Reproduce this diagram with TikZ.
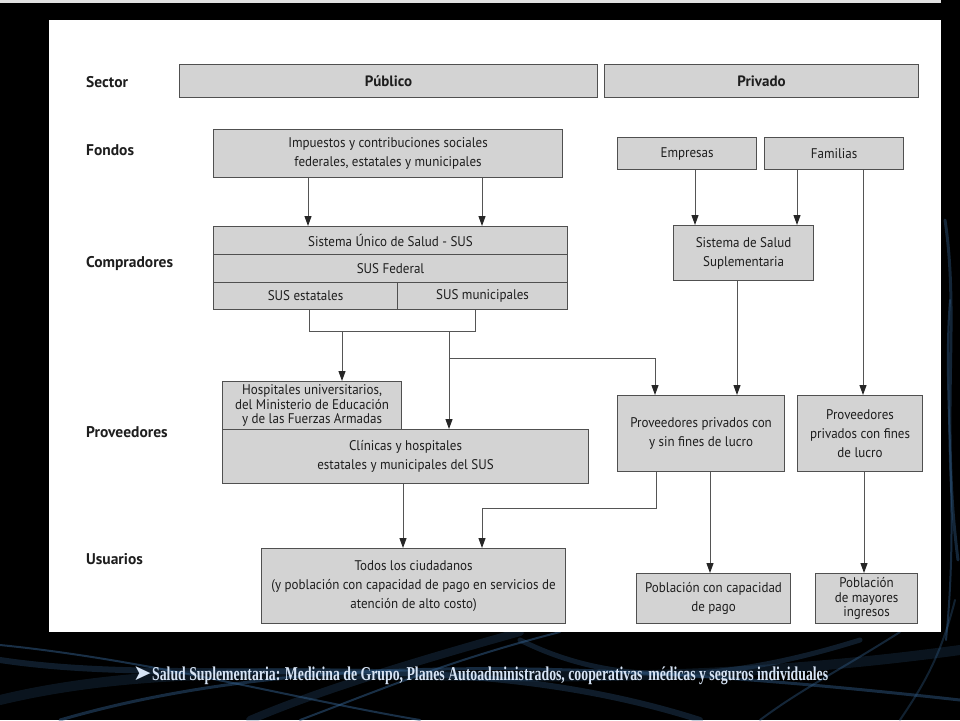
\documentclass[tikz,border=0pt]{standalone}
\usepackage{fontspec}
\setmainfont{PT Sans}[FakeStretch=0.93]
\newfontfamily\labfont{PT Sans}
\newfontfamily\footfont{Liberation Serif}
\newfontfamily\symfont{DejaVu Sans}
\usetikzlibrary{arrows.meta}
\definecolor{boxfill}{RGB}{211,211,211}
\definecolor{boxline}{RGB}{80,80,80}
\definecolor{linec}{RGB}{85,85,85}
\definecolor{txt}{RGB}{30,30,30}
\definecolor{foot}{RGB}{215,228,245}
\definecolor{swirl}{RGB}{50,95,140}
\begin{document}
\begin{tikzpicture}[x=1pt,y=-1pt,
  box/.style={draw=boxline,fill=boxfill,line width=1.1pt,inner sep=0pt,align=center,anchor=north west,text=txt,font=\fontsize{14}{19}\selectfont},
  tight/.style={font=\fontsize{14}{14.8}\selectfont},
  head/.style={font=\labfont\bfseries\fontsize{15}{18}\selectfont},
  lab/.style={anchor=west,inner sep=0pt,text=txt,font=\labfont\bfseries\fontsize{15.5}{18}\selectfont},
  arr/.style={draw=linec,line width=1pt,-{Triangle[length=10pt,width=7pt,color=black!85]}},
  ln/.style={draw=linec,line width=1pt},
  sw/.style={draw=swirl,line cap=round}]
% background
\fill[black] (0,0) rectangle (960,720);
\useasboundingbox (0,0) rectangle (960,720);
\draw[sw,line width=10pt,opacity=0.22] (0,700) .. controls (250,640) and (520,710) .. (960,650);
\draw[sw,line width=6pt,opacity=0.3] (0,660) .. controls (200,690) and (450,640) .. (700,720);
\draw[sw,line width=3pt,opacity=0.45] (60,720) .. controls (300,650) and (600,660) .. (960,700);
\draw[sw,line width=2pt,opacity=0.5] (0,645) .. controls (150,660) and (300,700) .. (420,720);
\draw[sw,line width=5pt,opacity=0.3] (520,640) .. controls (600,680) and (700,690) .. (860,640);
\draw[sw,line width=8pt,opacity=0.25] (250,720) .. controls (320,690) and (420,660) .. (520,632);
\draw[sw,line width=2pt,opacity=0.5] (300,720) .. controls (380,690) and (450,660) .. (560,632);
\draw[sw,line width=3pt,opacity=0.4] (945,220) .. controls (960,320) and (940,420) .. (958,560);
\draw[sw,line width=2pt,opacity=0.45] (950,300) .. controls (942,400) and (960,500) .. (946,640);
\draw[sw,line width=2pt,opacity=0.35] (900,720) .. controls (920,690) and (940,660) .. (955,600);
\draw[sw,line width=2pt,opacity=0.4] (760,720) .. controls (800,690) and (840,670) .. (900,632);
\fill[black!12] (0,0) rectangle (941,3);
% panel
\fill[white] (49,20) rectangle (941,632);
% row labels
\node[lab] (lsec) at (86,82) {Sector};
\node[lab] (lfon) at (86,150) {Fondos};
\node[lab] (lcom) at (86,264) {Compradores};
\node[lab] (lpro) at (86,432) {Proveedores};
\node[lab] (lusu) at (86,559) {Usuarios};
% boxes
\node[box,head,minimum width=418pt,minimum height=33pt] (pub) at (179,64) {Público};
\node[box,head,minimum width=314pt,minimum height=33pt] (priv) at (604,64) {Privado};
\node[box,minimum width=349pt,minimum height=48pt] (imp) at (213,129) {Impuestos y contribuciones sociales\\federales, estatales y municipales};
\node[box,minimum width=354pt,minimum height=28pt] (sus1) at (213,226) {Sistema Único de Salud - SUS};
\node[box,minimum width=354pt,minimum height=28pt] (sus2) at (213,254) {SUS Federal};
\node[box,minimum width=184pt,minimum height=27pt] (susE) at (213,282) {SUS estatales};
\node[box,minimum width=170pt,minimum height=27pt] (susM) at (397,282) {SUS municipales};
\node[box,minimum width=139pt,minimum height=32pt] (emp) at (617,137) {Empresas};
\node[box,minimum width=139pt,minimum height=32pt] (fam) at (764,137) {Familias};
\node[box,minimum width=140pt,minimum height=55pt] (sss) at (673,225) {Sistema de Salud\\Suplementaria};
\node[box,tight,minimum width=179pt,minimum height=48pt] (hosp) at (222,381) {Hospitales universitarios,\\del Ministerio de Educación\\y de las Fuerzas Armadas};
\node[box,minimum width=366pt,minimum height=54pt] (clin) at (222,429) {Clínicas y hospitales\\estatales y municipales del SUS};
\node[box,minimum width=167pt,minimum height=76pt] (pp) at (617,395) {Proveedores privados con\\y sin fines de lucro};
\node[box,minimum width=125pt,minimum height=76pt] (pf) at (797,395) {Proveedores\\privados con fines\\de lucro};
\node[box,minimum width=304pt,minimum height=75pt] (todos) at (261,548) {Todos los ciudadanos\\(y población con capacidad de pago en servicios de\\atención de alto costo)};
\node[box,minimum width=154pt,minimum height=50pt] (pc) at (636,573) {Población con capacidad\\de pago};
\node[box,tight,minimum width=102pt,minimum height=50pt] (pm) at (815,573) {Población\\de mayores\\ingresos};
% connectors
\draw[arr] ([xshift=95pt]imp.south west) -- ([xshift=95pt]imp.south west |- sus1.north);
\draw[arr] ([xshift=269pt]imp.south west) -- ([xshift=269pt]imp.south west |- sus1.north);
\draw[arr] ([xshift=78pt]emp.south west) -- ([xshift=78pt]emp.south west |- sss.north);
\draw[arr] ([xshift=33pt]fam.south west) -- ([xshift=33pt]fam.south west |- sss.north);
\draw[arr] ([xshift=99pt]fam.south west) -- ([xshift=99pt]fam.south west |- pf.north);
\draw[arr] ([xshift=64pt]sss.south west) -- ([xshift=64pt]sss.south west |- pp.north);
\coordinate (bl) at (309,331);
\coordinate (br) at (475,331);
\draw[ln] ([xshift=96pt]susE.south west) -- (bl) -- (br) -- ([xshift=78pt]susM.south west);
\coordinate (hx) at (342,331);
\draw[arr] (hx) -- (hx |- hosp.north);
\coordinate (cx) at (449,331);
\draw[arr] (cx) -- (cx |- clin.north);
\coordinate (tee) at (449,358);
\coordinate (ppx) at (655,358);
\draw[arr] (tee) -- (ppx) -- (ppx |- pp.north);
\draw[arr] ([xshift=181pt]clin.south west) -- ([xshift=181pt]clin.south west |- todos.north);
\coordinate (ret) at (482,508);
\draw[arr] ([xshift=39pt]pp.south west) |- (ret) -- (ret |- todos.north);
\draw[arr] ([xshift=93pt]pp.south west) -- ([xshift=93pt]pp.south west |- pc.north);
\draw[arr] ([xshift=67pt]pf.south west) -- ([xshift=67pt]pf.south west |- pm.north);
% footer
\node[anchor=base west,inner sep=0pt,text=foot,font=\symfont\fontsize{22}{24}\selectfont] (farr) at (133,680) {➤};
\node[anchor=base west,inner sep=0pt,text=foot] (foot) at (152,680) {\resizebox{676pt}{\height}{\fontsize{19.6}{22}\selectfont\footfont\bfseries Salud Suplementaria: Medicina de Grupo, Planes Autoadministrados, cooperativas\, médicas y seguros individuales}};
\end{tikzpicture}
\end{document}
